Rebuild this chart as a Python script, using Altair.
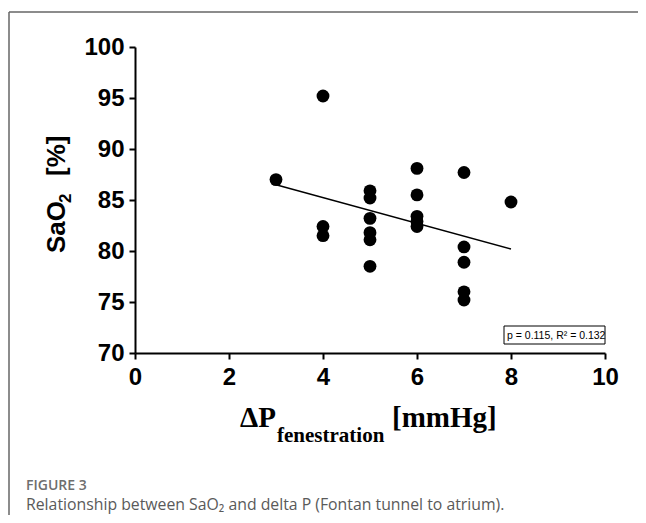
import altair as alt
import pandas as pd

# Data
delta_p = [3, 4, 4, 4, 5, 5, 5, 5, 5, 5, 6, 6, 6, 6, 6, 7, 7, 7, 7, 7, 8]
sao2 = [87.0, 95.2, 82.4, 81.5, 85.9, 85.2, 83.2, 81.8, 81.1, 78.5,
        88.1, 85.5, 83.4, 82.9, 82.4, 87.7, 80.4, 78.9, 76.0, 75.2, 84.8]
x_ticks = [0, 2, 4, 6, 8, 10]
y_ticks = [70, 75, 80, 85, 90, 95, 100]
stats_label = "p = 0.115, R² = 0.132"
caption_head = "FIGURE 3"
caption_text = "Relationship between SaO₂ and delta P (Fontan tunnel to atrium)."

df = pd.DataFrame({"dp": delta_p, "sao2": sao2})
one = pd.DataFrame({"k": [0]})

x_enc = alt.X("dp:Q", scale=alt.Scale(domain=[0, 10], nice=False),
              axis=alt.Axis(values=x_ticks, title=None, grid=False, format="d",
                            domainColor="black", domainWidth=2,
                            tickColor="black", tickWidth=2, tickSize=6,
                            labelFont="Liberation Sans", labelFontSize=24,
                            labelFontWeight="bold", labelColor="black",
                            labelPadding=6, labelFlush=False, labelOverlap=False))
y_enc = alt.Y("sao2:Q", scale=alt.Scale(domain=[70, 100], nice=False, zero=False),
              axis=alt.Axis(values=y_ticks, title=None, grid=False, format="d",
                            domainColor="black", domainWidth=2,
                            tickColor="black", tickWidth=2, tickSize=6,
                            labelFont="Liberation Sans", labelFontSize=24,
                            labelFontWeight="bold", labelColor="black",
                            labelPadding=5, labelFlush=False, labelOverlap=False))

points = alt.Chart(df).mark_circle(size=165, color="black", opacity=1).encode(x=x_enc, y=y_enc)

fit = alt.Chart(df).transform_regression("dp", "sao2").mark_line(
    color="black", strokeWidth=1.4).encode(x="dp:Q", y="sao2:Q")


def txt(text, x, y, size, font="Liberation Sans", weight="normal", color="black",
        angle=0, align="left", baseline="alphabetic"):
    return alt.Chart(one).mark_text(
        text=text, font=font, fontSize=size, fontWeight=weight, color=color,
        angle=angle, align=align, baseline=baseline).encode(
        x=alt.value(x), y=alt.value(y))


# stats box
box = alt.Chart(one).mark_rect(fill="white", stroke="black", strokeWidth=1).encode(
    x=alt.value(369), x2=alt.value(470), y=alt.value(279), y2=alt.value(297))
box_text = txt(stats_label, 372, 292, 10.5)

# y title: SaO2 [%]
ytitle = [
    txt("SaO", -70, 206, 26, weight="bold", angle=270),
    txt("2", -64, 156, 17, weight="bold", angle=270),
    txt("[%]", -70, 129, 26, weight="bold", angle=270),
]
# x title: ΔP fenestration [mmHg]
xtitle = [
    txt("ΔP", 105, 380, 29, font="Liberation Serif", weight="bold"),
    txt("fenestration", 142, 395, 21, font="Liberation Serif", weight="bold"),
    txt("[mmHg]", 257, 380, 29, font="Liberation Serif", weight="bold"),
]
# caption
cap = [
    txt(caption_head, -109, 443, 14, font="Open Sans", weight=600, color="#6e6e6e"),
    txt(caption_text, -109, 463, 15.8, font="Open Sans", color="#5a5a5a"),
]
# figure border
border_top = alt.Chart(one).mark_rule(color="#666666", strokeWidth=1.5).encode(
    x=alt.value(-126), x2=alt.value(503), y=alt.value(-35))
border_left = alt.Chart(one).mark_rule(color="#666666", strokeWidth=1.5).encode(
    x=alt.value(-126), y=alt.value(-35), y2=alt.value(468))

chart = alt.layer(
    border_top, border_left, fit, points, box, box_text, *ytitle, *xtitle, *cap
).properties(
    width=470, height=306,
    autosize=alt.AutoSizeParams(type="none"),
    padding={"left": 127, "top": 39, "right": 33, "bottom": 162},
).configure_view(stroke=None)

chart.save("out.html", embed_options={"renderer": "svg", "actions": False})
